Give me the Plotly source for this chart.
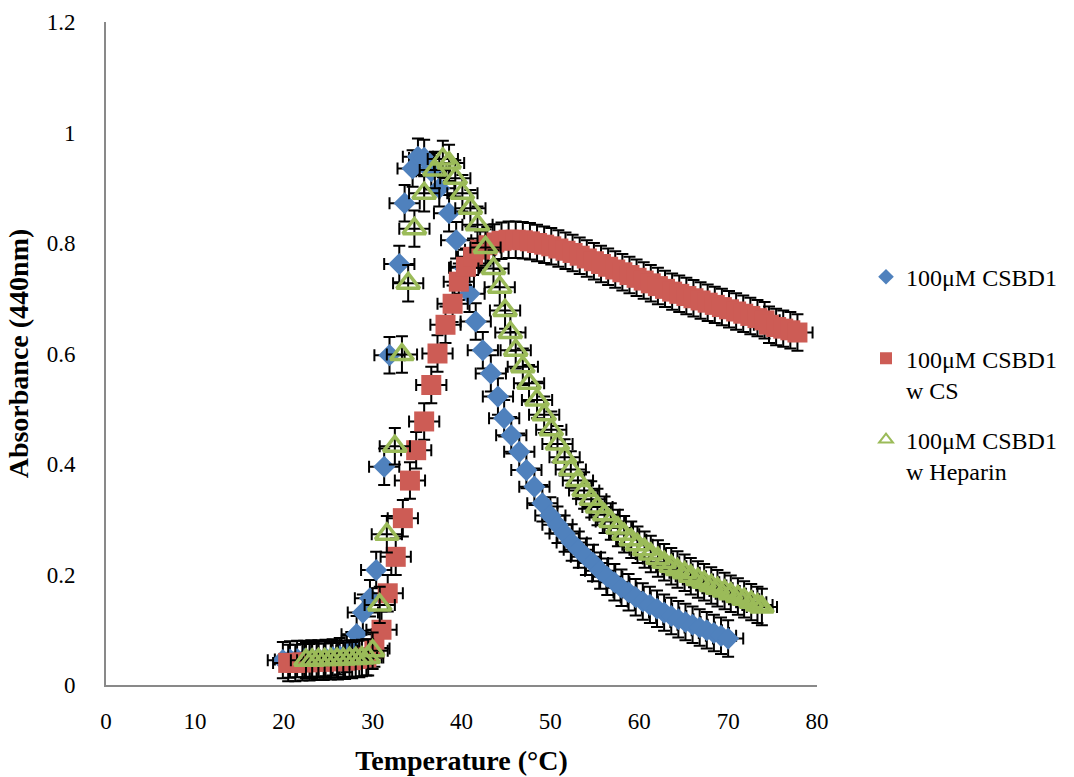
import plotly.graph_objects as go

# ---- data ----
csbd1_T = [19.9, 20.7, 21.5, 22.3, 23.1, 23.9, 24.7, 25.5, 26.3, 27.1, 27.6,
           28.2, 28.9, 29.7, 30.4, 31.3, 31.9, 33.0, 33.6, 34.5, 35.1, 35.8, 36.6,
           37.5, 38.6, 39.4, 40.3, 40.9, 41.6, 42.4, 43.3, 44.1, 44.8, 45.6, 46.5,
           47.3, 48.2, 49.1, 50.0, 50.8, 51.6, 52.4, 53.2, 54.0, 54.8, 55.6, 56.4,
           57.2, 58.0, 58.8, 59.6, 60.4, 61.2, 62.0, 62.8, 63.6, 64.4, 65.2, 66.0,
           66.8, 67.6, 68.4, 69.2, 70.0]
csbd1_A = [0.045, 0.046, 0.047, 0.047, 0.048, 0.048, 0.049, 0.050, 0.052, 0.056, 0.063,
           0.092, 0.131, 0.157, 0.208, 0.395, 0.597, 0.762, 0.872, 0.935, 0.956, 0.954, 0.930,
           0.899, 0.854, 0.805, 0.755, 0.708, 0.658, 0.606, 0.564, 0.522, 0.483, 0.452, 0.422,
           0.389, 0.359, 0.329, 0.307, 0.290, 0.274, 0.258, 0.245, 0.232, 0.221, 0.207, 0.196,
           0.186, 0.176, 0.168, 0.159, 0.151, 0.145, 0.138, 0.131, 0.125, 0.119, 0.114, 0.109,
           0.104, 0.099, 0.094, 0.089, 0.084]

cs_T = [20.5, 21.3, 22.1, 22.9, 23.7, 24.5, 25.3, 26.1, 26.9, 27.7, 28.5, 29.3,
        30.2, 31.0, 31.7, 32.6, 33.4, 34.2, 34.9, 35.8, 36.6, 37.3, 38.2, 39.0,
        39.7, 40.5, 41.3, 42.1, 42.9, 43.7, 44.5, 45.3, 46.1, 46.9, 47.7, 48.5,
        49.3, 50.1, 50.9, 51.7, 52.5, 53.3, 54.1, 54.9, 55.7, 56.5, 57.3, 58.1,
        58.9, 59.7, 60.5, 61.3, 62.1, 62.9, 63.7, 64.5, 65.3, 66.1, 66.9, 67.7,
        68.5, 69.3, 70.1, 70.9, 71.7, 72.5, 73.3, 74.1, 74.6, 75.4, 76.2, 77.0, 77.8]
cs_A = [0.040, 0.040, 0.041, 0.041, 0.042, 0.042, 0.043, 0.043, 0.044, 0.045, 0.047, 0.050,
        0.066, 0.100, 0.166, 0.232, 0.302, 0.370, 0.425, 0.477, 0.543, 0.600, 0.652, 0.690,
        0.730, 0.757, 0.775, 0.788, 0.796, 0.801, 0.804, 0.806, 0.806, 0.805, 0.803, 0.800,
        0.797, 0.794, 0.790, 0.786, 0.782, 0.777, 0.772, 0.767, 0.762, 0.757, 0.752, 0.747,
        0.742, 0.737, 0.732, 0.727, 0.722, 0.717, 0.712, 0.708, 0.704, 0.700, 0.696, 0.692,
        0.688, 0.684, 0.680, 0.676, 0.672, 0.668, 0.664, 0.660, 0.652, 0.648, 0.645, 0.642, 0.638]

hep_T = [22.5, 23.2, 23.9, 24.6, 25.3, 26.0, 26.7, 27.4, 28.1, 28.8, 29.5,
         30.0, 30.8, 31.6, 32.5, 33.3, 34.0, 34.7, 35.8, 37.0, 37.9, 38.6, 39.3,
         40.1, 41.0, 41.8, 42.7, 43.6, 44.3, 44.9, 45.5, 46.1, 46.9, 47.6, 48.5,
         49.3, 50.1, 50.8, 51.6, 52.3, 53.1, 53.8, 54.6, 55.3, 56.1, 56.8, 57.6,
         58.3, 59.1, 59.8, 60.6, 61.3, 62.1, 62.8, 63.6, 64.3, 65.1, 65.8, 66.6,
         67.3, 68.1, 68.8, 69.6, 70.3, 71.1, 71.8, 72.6, 73.3, 73.8]
hep_A = [0.045, 0.045, 0.046, 0.046, 0.046, 0.047, 0.047, 0.048, 0.048, 0.049, 0.050,
         0.062, 0.145, 0.273, 0.432, 0.598, 0.727, 0.826, 0.890, 0.932, 0.952, 0.945, 0.917,
         0.890, 0.863, 0.833, 0.792, 0.754, 0.720, 0.678, 0.638, 0.606, 0.576, 0.546, 0.516,
         0.489, 0.462, 0.436, 0.412, 0.390, 0.370, 0.352, 0.336, 0.322, 0.308, 0.296, 0.284,
         0.273, 0.263, 0.254, 0.245, 0.237, 0.229, 0.222, 0.215, 0.209, 0.203, 0.197, 0.191,
         0.186, 0.180, 0.175, 0.170, 0.165, 0.160, 0.155, 0.150, 0.145, 0.141]

err_T = 1.7
err_A = 0.033

names = ["100μM CSBD1<br> ", "100μM CSBD1<br>w CS", "100μM CSBD1<br>w Heparin"]

# ---- figure ----
serif = "Liberation Serif"
ex = dict(type="constant", value=err_T, color="black", thickness=2, width=6)
ey = dict(type="constant", value=err_A, color="black", thickness=2, width=6)

fig = go.Figure()
fig.add_trace(go.Scatter(
    x=csbd1_T, y=csbd1_A, mode="markers", name=names[0], legendgroup="a",
    marker=dict(symbol="diamond", size=17, color="#4F81BD"),
    error_x=ex, error_y=ey))
fig.add_trace(go.Scatter(
    x=cs_T, y=cs_A, mode="markers", name=names[1], legendgroup="b",
    marker=dict(symbol="square", size=20, color="#CD5C55"),
    error_x=ex, error_y=ey))
fig.add_trace(go.Scatter(
    x=hep_T, y=hep_A, mode="markers", name=names[2], legendgroup="c",
    marker=dict(symbol="triangle-up-open", size=20, color="#9BBB59",
                line=dict(width=3.5, color="#9BBB59")),
    error_x=ex, error_y=ey))

axis_common = dict(showgrid=False, zeroline=False, showline=True,
                   linecolor="#898989", linewidth=2, ticks="",
                   tickfont=dict(family=serif, size=23, color="black"))

fig.update_layout(
    width=1074, height=777,
    margin=dict(l=106, r=257, t=22, b=92, autoexpand=False),
    paper_bgcolor="white", plot_bgcolor="white",
    xaxis=dict(range=[0, 80], dtick=10, tick0=0, ticklabelstandoff=14,
               title=dict(text="<b>Temperature (°C)</b>", font=dict(family=serif, size=28, color="black"),
                          standoff=18),
               **axis_common),
    yaxis=dict(range=[0, 1.2], dtick=0.2, tick0=0, ticklabelstandoff=24,
               title=dict(text="<b>Absorbance (440nm)</b>", font=dict(family=serif, size=28, color="black"),
                          standoff=10),
               **axis_common),
    legend=dict(x=866/1074, xref="container", y=0.649, xanchor="left", yanchor="top", valign="top",
                font=dict(family=serif, size=24, color="black"),
                tracegroupgap=16, itemsizing="constant", bgcolor="rgba(0,0,0,0)"),
    showlegend=True,
)

fig.write_html("out.html")
